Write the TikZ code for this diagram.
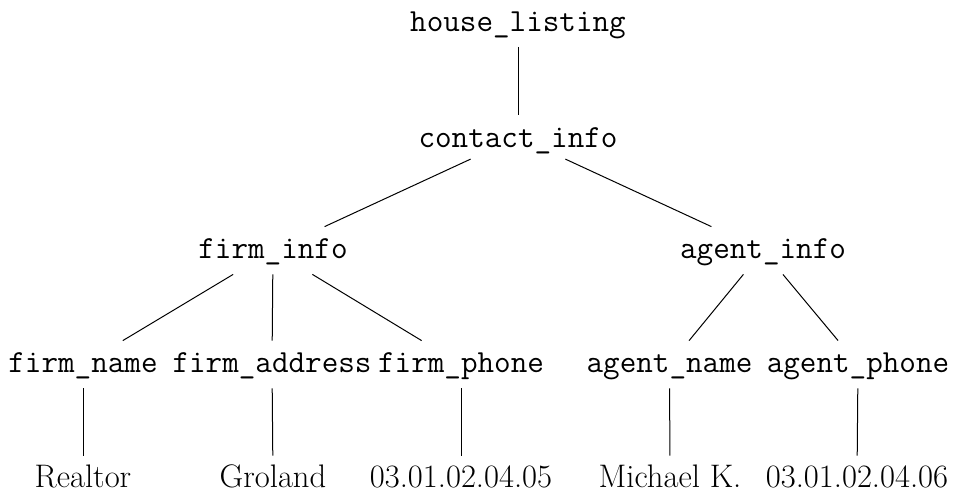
\documentclass[tikz,border=0pt]{standalone}
\usepackage{fontspec}
\begin{document}
\begin{tikzpicture}[x=0.5pt,y=-0.5pt,
  treenode/.style={inner sep=0pt, text height=16pt, text depth=7.5pt, anchor=base},
  tag/.style={treenode, font=\fontsize{16.1}{19}\selectfont\ttfamily},
  val/.style={treenode, font=\fontsize{16.3}{19}\selectfont},
  edge/.style={line width=0.5pt}]
\useasboundingbox (0,0) rectangle (959,496);

% element names
\node[tag] (root)  at (518,31.5) {house\_listing};
\node[tag, text depth=5.5pt] (ci) at (518,147.7) {contact\_info};
\node[tag] (fi)    at (273,259) {firm\_info};
\node[tag] (ai)    at (763,259) {agent\_info};
\node[tag] (fn)    at (83,373) {firm\_name};
\node[tag] (fa)    at (272,373) {firm\_address};
\node[tag] (fp)    at (461,373) {firm\_phone};
\node[tag] (an)    at (669.5,373) {agent\_name};
\node[tag] (ap)    at (858,373) {agent\_phone};

% text values
\node[val] (vfn) at (83,488) {Realtor};
\node[val] (vfa) at (273,488) {Groland};
\node[val] (vfp) at (461,488) {03.01.02.04.05};
\node[val] (van) at (670,488) {Michael K.};
\node[val] (vap) at (857,488) {03.01.02.04.06};

% branches
\draw[edge] (root) -- (ci);
\draw[edge] (ci) -- (fi);
\draw[edge] (ci) -- (ai);
\draw[edge] (fi) -- (fn);
\draw[edge] (fi) -- (fa);
\draw[edge] (fi) -- (fp);
\draw[edge] (ai) -- (an);
\draw[edge] (ai) -- (ap);
\draw[edge] (fn) -- (vfn);
\draw[edge] (fa) -- (vfa);
\draw[edge] (fp) -- (vfp);
\draw[edge] (an) -- (van);
\draw[edge] (ap) -- (vap);
\end{tikzpicture}
\end{document}
